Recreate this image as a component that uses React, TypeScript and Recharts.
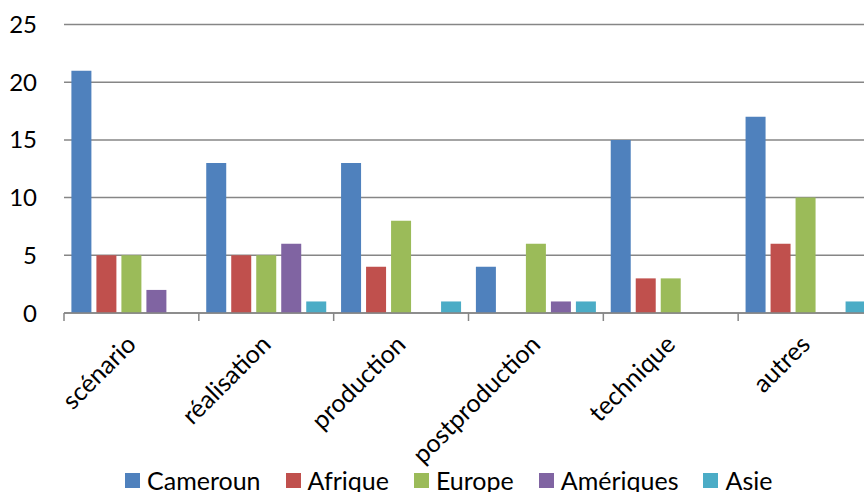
import React from 'react';
import { BarChart, Bar, XAxis, YAxis, CartesianGrid, Legend } from 'recharts';

const categories = ['scénario', 'réalisation', 'production', 'postproduction', 'technique', 'autres'];
const cameroun = [21, 13, 13, 4, 15, 17];
const afrique = [5, 5, 4, 0, 3, 6];
const europe = [5, 5, 8, 6, 3, 10];
const ameriques = [2, 6, 0, 1, 0, 0];
const asie = [0, 1, 1, 1, 0, 1];
const seriesKeys = ['cameroun', 'afrique', 'europe', 'ameriques', 'asie'];
const seriesNames = ['Cameroun', 'Afrique', 'Europe', 'Amériques', 'Asie'];
const seriesColors = ['#4F81BD', '#C0504D', '#9BBB59', '#8064A2', '#4BACC6'];
const yTicks = [0, 5, 10, 15, 20, 25];

const data = categories.map((c, i) => ({
  name: c,
  cameroun: cameroun[i],
  afrique: afrique[i],
  europe: europe[i],
  ameriques: ameriques[i],
  asie: asie[i],
}));

const FONT = 'Lato, "DejaVu Sans", sans-serif';
const FS = 25;
const GRID = '#868686';

const CatTick = (props: any) => {
  const { x, y, payload } = props;
  const half = payload && payload.offset ? payload.offset : 809 / 12;
  const ax = x + 6;
  const ay = y + 33;
  return (
    <g>
      <line x1={x - half} x2={x - half} y1={y} y2={y + 8} stroke={GRID} strokeWidth={1.5} />
      <text
        x={ax}
        y={ay}
        textAnchor="end"
        transform={`rotate(-45, ${ax}, ${ay})`}
        fill="#000"
        fontSize={FS}
        fontFamily={FONT}
      >
        {payload.value}
      </text>
    </g>
  );
};

const LegendContent = () => (
  <div
    style={{
      display: 'flex',
      flexDirection: 'row',
      alignItems: 'center',
      paddingLeft: 125,
      fontFamily: FONT,
      fontSize: FS,
      color: '#000',
      lineHeight: '28px',
    }}
  >
    {seriesNames.map((n, i) => (
      <div key={n} style={{ display: 'flex', alignItems: 'center', marginRight: 25 }}>
        <div style={{ width: 15, height: 15, background: seriesColors[i], marginRight: 7 }} />
        <span>{n}</span>
      </div>
    ))}
  </div>
);

export default function App() {
  return (
    <div
      style={{
        position: 'fixed',
        left: 0,
        top: 0,
        width: 864,
        height: 492,
        overflow: 'hidden',
        background: '#fff',
      }}
    >
      <BarChart
        width={880}
        height={500}
        data={data}
        margin={{ top: 24.5, right: 7, bottom: 0, left: 0 }}
        barCategoryGap={7.4}
        barGap={5}
        style={{ fontFamily: FONT }}
      >
        <CartesianGrid vertical={false} stroke={GRID} strokeWidth={1.5} />
        <XAxis
          dataKey="name"
          height={187}
          axisLine={{ stroke: GRID, strokeWidth: 1.5 }}
          tickLine={false}
          tickSize={0}
          tickMargin={0}
          interval={0}
          tick={<CatTick />}
        />
        <YAxis
          domain={[0, 25]}
          ticks={yTicks}
          width={64}
          axisLine={false}
          tickLine={false}
          tickSize={0}
          tickMargin={27}
          interval={0}
          tick={{ fill: '#000', fontSize: 24, fontFamily: FONT }}
        />
        <Legend
          layout="horizontal"
          verticalAlign="middle"
          align="center"
          wrapperStyle={{ top: 466, left: 0, width: 880 }}
          content={<LegendContent />}
        />
        {seriesKeys.map((k, i) => (
          <Bar key={k} dataKey={k} name={seriesNames[i]} fill={seriesColors[i]} isAnimationActive={false} />
        ))}
      </BarChart>
    </div>
  );
}
